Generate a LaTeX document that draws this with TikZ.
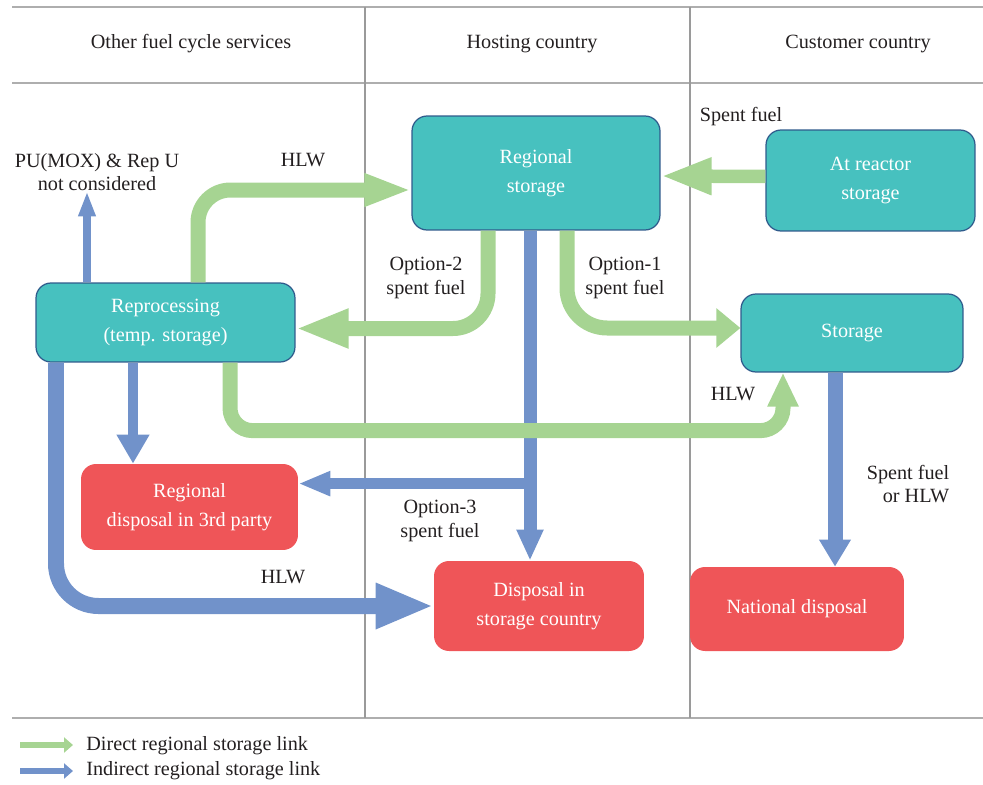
\documentclass[tikz,border=0pt]{standalone}
\usepackage{fontspec}
\setmainfont{Liberation Serif}
\usetikzlibrary{arrows.meta,calc}
\definecolor{teal1}{HTML}{47C1BF}
\definecolor{tealb}{HTML}{2F5B8C}
\definecolor{red1}{HTML}{EF5558}
\definecolor{grn}{HTML}{A6D492}
\definecolor{blu}{HTML}{7192CA}
\definecolor{txt}{HTML}{231F20}
\definecolor{sep}{HTML}{9A9A9A}
\begin{document}
\begin{tikzpicture}[x=0.02cm,y=-0.02cm,
  font=\fontsize{11.5}{13.5}\selectfont, text=txt,
  box/.style={rounded corners=0.3cm, align=center, text=white, font=\fontsize{11.5}{16.5}\selectfont, inner sep=0pt},
  tbox/.style={box, fill=teal1, draw=tealb, line width=0.7pt},
  rbox/.style={box, fill=red1},
  lbl/.style={align=center, inner sep=0pt},
  gline/.style={draw=grn, line width=0.3cm},
  bline/.style={draw=blu},
  sepline/.style={draw=sep, line width=0.6pt},
  hline/.style={draw=sep!80, line width=1.1pt}]
\useasboundingbox (0,0) rectangle (983,784);

% table lines
\draw[hline] (12,7) -- (983,7);
\draw[hline] (12,83) -- (983,83);
\draw[hline] (12,718) -- (983,718);
\draw[sepline] (365,7) -- (365,718);
\draw[sepline] (690,7) -- (690,718);

% headers
\node[lbl] (h1) at (191,44) {Other fuel cycle services};
\node[lbl] (h2) at (532,44) {Hosting country};
\node[lbl] (h3) at (858,44) {Customer country};

% boxes
\node[tbox, minimum width=4.96cm, minimum height=2.28cm] (rstore) at (536,173) {Regional\\storage};
\node[tbox, minimum width=4.18cm, minimum height=2.02cm] (reactor) at (870.5,180.5) {At reactor\\storage};
\node[tbox, minimum width=5.18cm, minimum height=1.58cm] (reproc) at (165.5,322.5) {Reprocessing\\(temp. storage)};
\node[tbox, minimum width=4.44cm, minimum height=1.56cm] (storage) at (852,333) {Storage};
\node[rbox, minimum width=4.34cm, minimum height=1.72cm] (rdisp) at (189.5,507) {Regional\\disposal in 3rd party};
\node[rbox, minimum width=4.2cm, minimum height=1.8cm] (dstore) at (539,606) {Disposal in\\storage country};
\node[rbox, minimum width=4.28cm, minimum height=1.68cm] (ndisp) at (797,609) {National disposal};

% labels
\node[lbl] (pu) at (97,172) {PU(MOX) \& Rep U\\not considered};
\node[lbl] (l1) at (303,160) {HLW};
\node[lbl] (l2) at (741,117) {Spent fuel};
\node[lbl] (l3) at (426,278) {Option-2\\spent fuel};
\node[lbl] (l4) at (625,278) {Option-1\\spent fuel};
\node[lbl] (l5) at (733,394) {HLW};
\node[lbl, align=right] (l6) at (908,484) {Spent fuel\\or HLW};
\node[lbl] (l7) at (440,521) {Option-3\\spent fuel};
\node[lbl] (l8) at (283,577) {HLW};

% blue links
\coordinate (puS) at ($(reproc.north)+(-78.5,0)$);
\draw[bline, line width=0.16cm, -{Triangle[length=0.5cm,width=0.32cm]}] (puS) -- (puS |- pu.south);
\coordinate (b2) at ($(reproc.south)+(-32.5,0)$);
\draw[bline, line width=0.2cm, -{Triangle[length=0.58cm,width=0.62cm]}] (b2) -- (b2 |- rdisp.north);
\coordinate (b3) at ($(rstore.south)+(-6,0)$);
\draw[bline, line width=0.26cm, -{Triangle[length=0.62cm,width=0.5cm]}] (b3) -- (b3 |- dstore.north);
\coordinate (br) at ($(b3)+(6,253)$);
\draw[bline, line width=0.22cm, -{Triangle[length=0.64cm,width=0.46cm]}] (br) -- (br -| rdisp.east);
\coordinate (b4) at ($(reproc.south)+(-109.5,0)$);
\draw[bline, line width=0.32cm, rounded corners=0.85cm, -{Triangle[length=1.16cm,width=0.84cm]}] (b4) |- (dstore.west);
\coordinate (b5) at ($(storage.south)+(-17,0)$);
\draw[bline, line width=0.3cm, -{Triangle[length=0.54cm,width=0.6cm]}] (b5) -- (b5 |- ndisp.north);

% green links
\draw[gline, rounded corners=0.65cm, -{Triangle[length=0.94cm,width=0.6cm]}] ($(reproc.north)+(32.5,0)$) |- ($(rstore.west)+(0,17)$);
\draw[gline, line width=0.27cm, -{Triangle[length=1.02cm,width=0.68cm]}] ($(reactor.west)+(0,-4)$) -- ($(rstore.east)+(0,3)$);
\draw[gline, rounded corners=0.7cm, -{Triangle[length=1.06cm,width=0.72cm]}] ($(rstore.south)+(-48,0)$) |- ($(reproc.east)+(0,6)$);
\draw[gline, rounded corners=0.8cm, -{Triangle[length=0.48cm,width=0.76cm]}] ($(rstore.south)+(31,0)$) |- ($(storage.west)+(0,-5)$);
\draw[gline, rounded corners=0.45cm, -{Triangle[length=0.68cm,width=0.58cm]}] ($(reproc.south)+(64.5,0)$) |- ($(storage.south)+(-69,58)$) -- ($(storage.south)+(-69,0)$);

% legend
\node[lbl, anchor=west] (lt1) at (86,746) {Direct regional storage link};
\node[lbl, anchor=west] (lt2) at (86,771) {Indirect regional storage link};
\coordinate (lg1) at (20,745);
\coordinate (lg2) at (20,771);
\draw[draw=grn, line width=0.13cm, -{Triangle[length=0.18cm,width=0.3cm]}] (lg1) -- ($(lg1)+(53,0)$);
\draw[draw=blu, line width=0.13cm, -{Triangle[length=0.18cm,width=0.3cm]}] (lg2) -- ($(lg2)+(53,0)$);
\end{tikzpicture}
\end{document}
